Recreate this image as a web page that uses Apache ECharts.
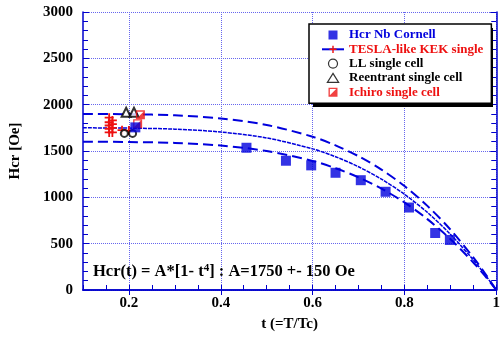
<!DOCTYPE html>
<html>
<head>
<meta charset="utf-8">
<script src="https://cdn.jsdelivr.net/npm/echarts@6/dist/echarts.min.js"></script>
<style>
  html, body { margin: 0; padding: 0; background: #fff; }
  #chart { width: 503px; height: 337px; }
</style>
</head>
<body>
<div id="chart"></div>
<script>
// tick values
const xMajor = [0.2, 0.4, 0.6, 0.8, 1.0]

// Hcr Nb Cornell
const cornellT = [0.214, 0.456, 0.542, 0.597, 0.65, 0.705, 0.759, 0.81, 0.867, 0.899]
const cornellH = [1755, 1535, 1395, 1345, 1265, 1185, 1060, 890, 615, 540]

// TESLA-like KEK single
const teslaT = [0.157, 0.157, 0.157, 0.157, 0.157, 0.164, 0.164, 0.164, 0.164, 0.185, 0.2]
const teslaH = [1860, 1810, 1775, 1740, 1700, 1830, 1790, 1750, 1700, 1725, 1720]

// LL single cell
const llT = [0.19, 0.208]
const llH = [1690, 1690]

// Reentrant single cell
const reentT = [0.194, 0.211]
const reentH = [1918, 1918]

// Ichiro single cell
const ichiroT = [0.225, 0.219]
const ichiroH = [1890, 1795]

// fit curves A*(1-t^4)
const fitT = [0.1, 0.2, 0.3, 0.4, 0.5, 0.6, 0.65, 0.7, 0.75, 0.8, 0.85, 0.9, 0.95, 0.975, 1.0]
const fitMid = [1750, 1747, 1736, 1705, 1641, 1523, 1438, 1330, 1196, 1033, 837, 602, 325, 169, 0]
const fitHigh = [1900, 1897, 1885, 1851, 1781, 1654, 1561, 1444, 1299, 1122, 908, 653, 352, 183, 0]
const fitLow = [1600, 1597, 1587, 1559, 1500, 1393, 1314, 1216, 1094, 945, 765, 550, 297, 154, 0]

const blue = '#0000dd'
const red = '#ee1111'
const axisBlue = '#0000cc'
const gridBlue = '#6666ee'
const font = 'Liberation Serif'

const plusPath = 'path://M4 0H6V4H10V6H6V10H4V6H0V4H4Z'
const halfSquare = 'path://M0 0H10V10H0Z M1.5 1.5V8.5H8.5V1.5Z M8.5 1.5L8.5 8.5L1.5 8.5Z'
const squarePath = 'path://M0 0H10V10H0Z'
const trianglePath = 'path://M5 0L10 8H0Z'
const circlePath = 'path://M5 0A5 5 0 1 1 4.99 0Z'

function pairs(xs, ys) {
  return xs.map((x, i) => [x, ys[i]])
}

function fitLine(name, ys, type, width) {
  return {
    name: name,
    type: 'line',
    data: pairs(fitT, ys),
    smooth: 0.3,
    showSymbol: false,
    silent: true,
    z: 2,
    lineStyle: { color: blue, width: width, type: type },
    animation: false
  }
}

const chart = echarts.init(document.getElementById('chart'))

const option = {
  animation: false,
  backgroundColor: '#fff',
  grid: { left: 77, right: 1, top: 12, bottom: 44 },
  xAxis: [
    {
      type: 'value',
      position: 'bottom',
      min: 0.1,
      max: 1,
      interval: 0.1,
      name: 't (=T/Tc)',
      nameLocation: 'middle',
      nameGap: 27,
      nameTextStyle: { fontFamily: font, fontWeight: 'bold', fontSize: 15, color: '#000' },
      axisLine: { show: true, lineStyle: { color: axisBlue, width: 1.5 } },
      axisTick: { show: true, inside: true, length: 5, lineStyle: { color: axisBlue } },
      minorTick: { show: true, splitNumber: 2, length: 5, lineStyle: { color: axisBlue } },
      axisLabel: {
        margin: 6,
        fontFamily: font, fontWeight: 'bold', fontSize: 15, color: '#000',
        formatter: v => {
          const r = Math.round(v * 10)
          if (r % 2 !== 0) return ''
          return r === 10 ? '1' : (r / 10).toFixed(1)
        }
      },
      splitLine: { show: false }
    },
    {
      type: 'value',
      position: 'top',
      min: 0.1,
      max: 1,
      axisLine: { show: true, lineStyle: { color: axisBlue, width: 1.5 } },
      axisTick: { show: true, inside: true, length: 5, customValues: xMajor, lineStyle: { color: axisBlue } },
      axisLabel: { show: false },
      splitLine: { show: true, lineStyle: { color: gridBlue, type: 'dotted', width: 1 } }
    }
  ],
  yAxis: [
    {
      type: 'value',
      position: 'left',
      min: 0,
      max: 3000,
      interval: 500,
      name: 'Hcr [Oe]',
      nameLocation: 'middle',
      nameGap: 60,
      nameTextStyle: { fontFamily: font, fontWeight: 'bold', fontSize: 15, color: '#000' },
      axisLine: { show: true, lineStyle: { color: axisBlue, width: 1.5 } },
      axisTick: { show: true, inside: true, length: 6, lineStyle: { color: axisBlue } },
      minorTick: { show: true, splitNumber: 5, length: 5, lineStyle: { color: axisBlue } },
      axisLabel: {
        margin: 10, fontFamily: font, fontWeight: 'bold', fontSize: 15, color: '#000',
        formatter: v => String(v)
      },
      splitLine: { show: true, lineStyle: { color: gridBlue, type: 'dotted', width: 1 } }
    },
    {
      type: 'value',
      position: 'right',
      min: 0,
      max: 3000,
      interval: 500,
      axisLine: { show: true, lineStyle: { color: axisBlue, width: 1.5 } },
      axisTick: { show: true, inside: true, length: 6, lineStyle: { color: axisBlue } },
      minorTick: { show: true, splitNumber: 5, length: 5, lineStyle: { color: axisBlue } },
      axisLabel: { show: false },
      splitLine: { show: false }
    }
  ],
  legend: {
    orient: 'vertical',
    left: 309,
    top: 24,
    padding: [4, 8, 4, 12],
    itemWidth: 22,
    itemHeight: 9,
    itemGap: 0.3,
    backgroundColor: '#fff',
    borderColor: '#000',
    borderWidth: 1.5,
    z: 10,
    textStyle: { fontFamily: font, fontWeight: 'bold', fontSize: 13, lineHeight: 14 },
    data: [
      { name: 'Hcr Nb Cornell', icon: squarePath, itemStyle: { color: blue }, textStyle: { color: blue } },
      {
        name: 'TESLA-like KEK single',
        textStyle: { color: red },
        lineStyle: { color: blue, width: 2, opacity: 1 }
      },
      {
        name: 'LL single cell', icon: circlePath,
        itemStyle: { color: '#fff', borderColor: '#000', borderWidth: 1.2 },
        textStyle: { color: '#000' }
      },
      {
        name: 'Reentrant single cell', icon: trianglePath,
        itemStyle: { color: '#fff', borderColor: '#000', borderWidth: 1.2 },
        textStyle: { color: '#000' }
      },
      { name: 'Ichiro single cell', icon: halfSquare, itemStyle: { color: red }, textStyle: { color: red } }
    ]
  },
  graphic: [
    {
      type: 'rect',
      z: 5,
      shape: { x: 313, y: 28, width: 180, height: 79 },
      style: { fill: '#000' }
    },
    {
      type: 'text',
      left: 93,
      top: 263,
      z: 10,
      style: {
        text: 'Hcr(t) = A*[1- t{s|4}] : A=1750 +- 150 Oe',
        fontFamily: font,
        fontWeight: 'bold',
        fontSize: 16.5,
        fill: '#000',
        rich: {
          s: { fontFamily: font, fontWeight: 'bold', fontSize: 11, verticalAlign: 'top', fill: '#000' }
        }
      }
    }
  ],
  series: [
    fitLine('fitHigh', fitHigh, [10, 5], 2),
    fitLine('fitMid', fitMid, [4, 1], 1.5),
    fitLine('fitLow', fitLow, [10, 5], 2),
    {
      name: 'TESLA-like KEK single',
      type: 'line',
      data: pairs(teslaT, teslaH),
      symbol: plusPath,
      symbolSize: 9,
      showSymbol: true,
      lineStyle: { opacity: 0, width: 0 },
      itemStyle: { color: red },
      z: 4
    },
    {
      name: 'LL single cell',
      type: 'scatter',
      data: pairs(llT, llH),
      symbol: 'emptyCircle',
      symbolSize: 7,
      itemStyle: { color: '#000', borderWidth: 1 },
      z: 4
    },
    {
      name: 'Reentrant single cell',
      type: 'scatter',
      data: pairs(reentT, reentH),
      symbol: 'emptyTriangle',
      symbolSize: 9,
      itemStyle: { color: '#000', borderWidth: 1 },
      z: 4
    },
    {
      name: 'Ichiro single cell',
      type: 'scatter',
      data: pairs(ichiroT, ichiroH),
      symbol: halfSquare,
      symbolSize: 9,
      itemStyle: { color: red },
      z: 5
    },
    {
      name: 'Hcr Nb Cornell',
      type: 'scatter',
      data: pairs(cornellT, cornellH),
      symbol: 'rect',
      symbolSize: 10,
      itemStyle: { color: blue },
      z: 6
    }
  ]
}

chart.setOption(option)
</script>
</body>
</html>
